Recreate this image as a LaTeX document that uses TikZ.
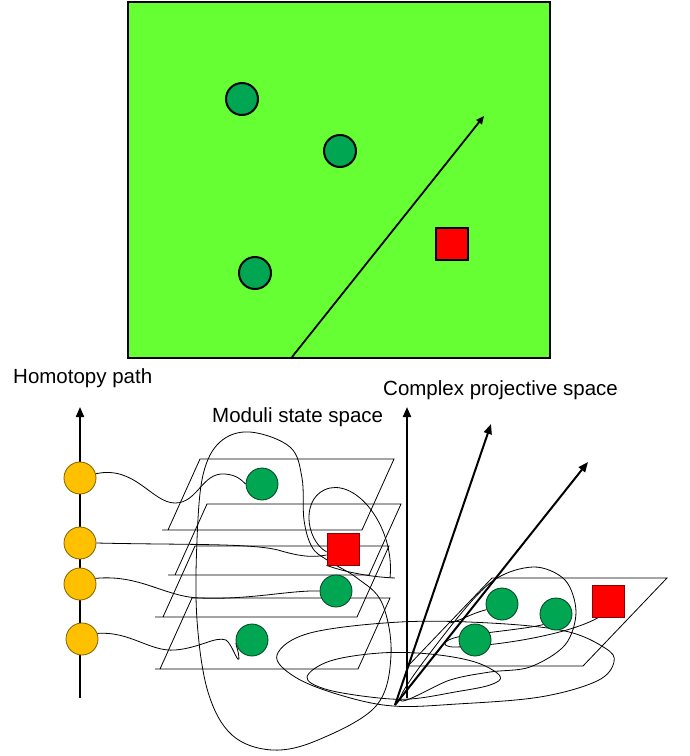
\documentclass[tikz,border=0pt]{standalone}
\usepackage{fontspec}
\setmainfont{Liberation Sans}
\usetikzlibrary{arrows.meta,backgrounds}
\definecolor{fieldgreen}{RGB}{102,255,51}
\definecolor{dotgreen}{RGB}{0,166,81}
\definecolor{pathorange}{RGB}{255,192,0}

\begin{document}
\begin{tikzpicture}[x=1pt, y=-1pt, >={Triangle[length=10pt,width=8pt]},
   font=\fontsize{20.5}{24}\selectfont,
   wire/.style={line width=0.8pt},
   axis/.style={->, line width=2pt},
   gc/.style={circle, draw=black!60!dotgreen, fill=dotgreen, line width=0.8pt, minimum size=32pt, inner sep=0pt},
   gct/.style={gc, draw=black, line width=2pt, minimum size=32pt},
   oc/.style={circle, draw=pathorange!50!black, fill=pathorange, line width=0.8pt, minimum size=32pt, inner sep=0pt},
   rs/.style={rectangle, draw=red!55!black, fill=red, line width=0.8pt, minimum size=32pt, inner sep=0pt},
   rst/.style={rs, draw=black, line width=1.6pt},
   lbl/.style={anchor=base west, inner sep=0pt}]
\useasboundingbox (0,0) rectangle (689,756);

\node[draw, line width=2pt, fill=fieldgreen, minimum width=422pt, minimum height=356pt, inner sep=0pt] (field) at (339,180) {};
\node[gct] (A1) at (242,99) {};
\node[gct] (A2) at (340,151) {};
\node[gct] (A3) at (255,273) {};
\node[rst] (AR) at (452,244) {};
\coordinate (fs) at (292,357);
\coordinate (fe) at (484,116);
\draw[-{Triangle[length=8pt,width=7pt]}, line width=1.8pt] (fs) -- (fe);

\node[lbl] (hlabel) at (13,383) {Homotopy path};
\node[lbl] (mlabel) at (212,422) {Moduli state space};
\node[lbl] (clabel) at (383,395) {Complex projective space};

\coordinate (hb) at (80,698);
\coordinate (ht) at (80,407);
\draw[axis] (hb) -- (ht);
\node[oc] (O1) at (80,478) {};
\node[oc] (O2) at (80,543) {};
\node[oc] (O3) at (80,584) {};
\node[oc] (O4) at (82,639) {};

\node[gc] (G1) at (262,484) {};
\node[rs] (R1) at (343,549) {};
\node[gc] (G2) at (336,591) {};
\node[gc] (G3) at (252,640) {};

\node[gc] (H1) at (502,604) {};
\node[gc] (H2) at (556,614) {};
\node[gc] (H3) at (475,640) {};
\node[rs] (R2) at (608,601) {};

\coordinate (cp) at (395,705);
\coordinate (vb) at (407,698);
\coordinate (vt) at (407,407);
\coordinate (t1) at (491,424);
\coordinate (t2) at (588,462);
\draw[axis] (vb) -- (vt);
\draw[axis] (cp) -- (t1);
\draw[axis] (cp) -- (t2);

\begin{scope}[on background layer]
\draw[wire] (162,530) -- (362,530) -- (394,459) -- (200,459) -- (168,530);
\draw[wire] (168,575) -- (369,575) -- (401,504) -- (207,504) -- (175,575);
\draw[wire] (155,617) -- (357,617) -- (389,546) -- (195,546) -- (163,617);
\draw[wire] (155,669) -- (358,669) -- (390,598) -- (192,598) -- (160,669);
\draw[wire] (408,666) -- (583,666) -- (667,578) -- (492,578) -- (408,666);

\draw[wire] (O1.15) .. controls (135,465) and (152,503) .. (175,503)
   .. controls (198,503) and (202,472) .. (225,474) .. controls (238,475) and (242,481) .. (G1.west);
\draw[wire] (O2.east) .. controls (180,545) and (250,543) .. (278,550)
   .. controls (298,556) and (312,558) .. (R1.200);
\draw[wire] (O3.20) .. controls (140,574) and (165,597) .. (200,598)
   .. controls (250,600) and (290,590) .. (G2.west);
\draw[wire] (O4.20) .. controls (130,631) and (150,652) .. (175,650)
   .. controls (200,648) and (215,636) .. (226,640) .. controls (232,644) and (237,662) .. (239,659)
   .. controls (239,652) and (236,646) .. (G3.190);

\draw[wire] plot[smooth cycle, tension=0.6] coordinates {(250,432) (290,447) (302,478) (304,520)
   (312,547) (327,560) (357,578) (382,603) (391,655) (376,706) (318,740) (272,750) (232,735)
   (208,692) (197,620) (197,540) (203,475) (220,442)};
\draw[wire] (R1.190) .. controls (305,540) and (300,495) .. (330,488)
   .. controls (360,482) and (395,530) .. (390,578);
\draw[wire] (R1.south west) .. controls (345,572) and (370,577) .. (395,578);

\draw[wire] plot[smooth cycle, tension=0.6] coordinates {(277,655) (310,633) (400,622) (490,623)
   (565,631) (605,648) (614,662) (597,681) (540,697) (457,704) (393,706) (340,695) (295,677)};
\draw[wire] plot[smooth cycle, tension=0.6] coordinates {(307,677) (330,661) (380,653) (430,654)
   (475,662) (500,676) (490,685) (455,692) (410,699) (370,697) (325,689)};
\draw[wire] plot[smooth cycle, tension=0.55] coordinates {(400,700) (440,640) (490,583) (533,567)
   (565,580) (576,612) (565,645) (530,667) (490,672) (450,680)};
\draw[wire] (R2.240) .. controls (570,634) and (500,646) .. (455,647)
   .. controls (438,647) and (442,638) .. (470,635) .. controls (500,631) and (530,628) .. (H2.220);
\draw[wire] (H1.200) .. controls (470,614) and (462,620) .. (450,623);
\end{scope}
\end{tikzpicture}
\end{document}
